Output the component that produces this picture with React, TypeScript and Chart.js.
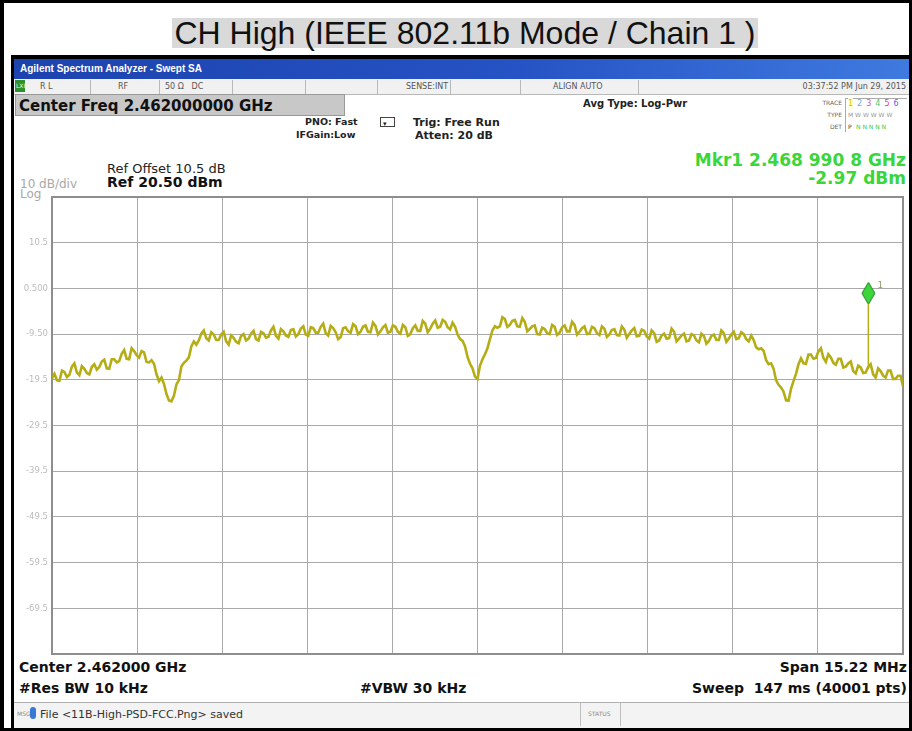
import React, { useEffect, useRef } from "react";
import { Chart, registerables } from "chart.js";
Chart.register(...registerables);

const TITLE = "CH High (IEEE 802.11b Mode / Chain 1 )";
const FREQ_START_MHZ = 2454.39;
const FREQ_STOP_MHZ = 2469.61;
const FREQ_GRID_MHZ = [2454.39, 2455.912, 2457.434, 2458.956, 2460.478, 2462.0, 2463.522, 2465.044, 2466.566, 2468.088, 2469.61];
const Y_GRID_DBM = [20.5, 10.5, 0.5, -9.5, -19.5, -29.5, -39.5, -49.5, -59.5, -69.5, -79.5];
const Y_TICK_LABELS = ["", "10.5", "0.500", "-9.50", "-19.5", "-29.5", "-39.5", "-49.5", "-59.5", "-69.5", ""];
const MARKER_FREQ_MHZ = 2468.9908;
const MARKER_DBM = -2.97;
const MARKER_STEM_END_DBM = -17.2;

// trace read at even sweep positions
const TRACE_DBM = [
  -19.2, -19.6, -17.5, -18.9, -16.6, -17.9, -16.5, -18.0, -16.7, -17.3,
  -15.5, -17.0, -15.0, -15.7, -13.8, -14.9, -12.6, -14.1, -13.2, -15.6,
  -15.2, -18.3, -19.0, -22.6, -24.2, -20.5, -16.6, -15.3, -12.2, -11.8,
  -9.4, -10.4, -9.1, -10.8, -9.6, -11.1, -9.8, -11.2, -9.9, -10.9,
  -9.4, -10.6, -9.0, -10.3, -8.7, -9.9, -8.4, -9.8, -8.6, -10.0,
  -8.3, -9.6, -8.0, -9.2, -7.9, -9.3, -7.7, -9.1, -10.2, -8.0,
  -9.2, -7.8, -9.0, -7.6, -9.1, -7.7, -8.9, -7.5, -9.0, -7.9,
  -9.4, -8.0, -9.5, -7.6, -8.8, -7.2, -8.3, -6.5, -7.9, -6.8,
  -8.5, -7.9, -10.6, -12.2, -16.0, -18.8, -16.4, -13.9, -10.6, -7.8,
  -7.8, -6.2, -7.5, -6.4, -7.9, -6.8, -8.4, -7.6, -9.6, -8.4,
  -9.5, -7.9, -9.2, -7.6, -8.9, -7.5, -9.0, -7.8, -9.4, -8.2,
  -9.7, -8.3, -9.6, -8.4, -9.8, -8.5, -9.5, -8.2, -9.9, -8.8,
  -10.5, -9.3, -10.9, -9.4, -10.4, -9.0, -10.5, -9.4, -10.9, -9.8,
  -11.3, -9.9, -11.0, -9.6, -10.8, -9.3, -10.5, -9.0, -10.4, -9.5,
  -11.1, -10.8, -12.8, -13.2, -16.1, -17.1, -20.6, -22.1, -24.1, -19.8,
  -16.1, -15.9, -14.0, -14.9, -13.3, -14.7, -13.9, -15.8, -14.9, -16.8,
  -15.9, -17.6, -16.4, -18.0, -16.7, -18.3, -17.0, -18.6, -17.5, -19.3,
  -18.6, -20.9,
];

// trace read at the sweep positions half-way between the ones above
const TRACE_MID_DBM = [
  -18.2, -19.7, -17.8, -18.4, -15.9, -18.5, -17.1, -18.3, -16.1, -16.7,
  -15.1, -17.1, -15.0, -15.4, -13.0, -15.0, -13.2, -14.6, -13.5, -15.7,
  -16.0, -19.8, -20.4, -24.0, -23.0, -19.6, -15.8, -14.6, -11.1, -10.9,
  -8.7, -10.9, -9.6, -10.8, -9.0, -11.8, -10.3, -11.5, -9.5, -10.5,
  -8.8, -10.9, -9.3, -10.1, -7.9, -10.5, -8.9, -10.1, -8.4, -9.5,
  -7.8, -9.9, -8.2, -9.2, -7.2, -9.8, -8.2, -10.6, -8.2, -8.9,
  -7.3, -9.5, -7.9, -9.0, -7.0, -9.6, -8.0, -9.2, -7.6, -9.0,
  -7.5, -9.9, -8.2, -8.8, -6.6, -9.1, -7.2, -8.1, -6.4, -8.0,
  -7.0, -9.6, -11.0, -14.5, -17.0, -19.3, -15.0, -12.6, -8.7, -8.1,
  -5.8, -7.9, -6.6, -7.8, -6.0, -8.9, -7.8, -9.5, -8.1, -9.3,
  -7.5, -9.7, -8.0, -8.9, -6.8, -9.6, -8.2, -9.5, -7.9, -9.3,
  -7.8, -10.1, -8.6, -9.7, -7.8, -10.3, -8.7, -10.0, -8.5, -10.0,
  -8.7, -11.2, -9.8, -10.5, -8.3, -11.1, -9.8, -11.1, -9.5, -10.9,
  -9.4, -11.6, -9.9, -10.8, -8.7, -11.2, -9.6, -10.6, -9.1, -10.6,
  -9.8, -12.4, -12.6, -15.2, -15.9, -19.6, -21.2, -24.0, -21.5, -18.2,
  -14.8, -16.0, -14.0, -14.7, -12.6, -15.6, -14.6, -16.2, -14.9, -16.6,
  -15.5, -18.1, -16.8, -17.9, -16.1, -19.0, -17.6, -19.0, -17.5, -19.3,
  -18.6,
];

const TRACE_COLOR = "#b5ad16";
const MKR_GREEN = "#3ad63a";
const SANS = "'DejaVu Sans', sans-serif";

type TProps = {
  x: number; cy: number; size: number; text: string; bold?: boolean; color?: string;
  right?: boolean; family?: string; extra?: React.CSSProperties;
};
function T({ x, cy, size, text, bold, color, right, family, extra }: TProps) {
  const style: React.CSSProperties = {
    position: "absolute",
    top: cy,
    transform: "translateY(-50%)",
    fontSize: size,
    lineHeight: 1,
    fontWeight: bold ? "bold" : "normal",
    color: color || "#111",
    fontFamily: family || SANS,
    whiteSpace: "pre",
    ...(right ? { right: 912 - x } : { left: x }),
    ...extra,
  };
  return <div style={style}>{text}</div>;
}

function makeDiamond(): HTMLCanvasElement {
  const c = document.createElement("canvas");
  c.width = 15;
  c.height = 46;
  const g = c.getContext("2d")!;
  g.beginPath();
  g.moveTo(7.5, 1);
  g.lineTo(14, 12);
  g.lineTo(7.5, 23);
  g.lineTo(1, 12);
  g.closePath();
  g.fillStyle = MKR_GREEN;
  g.fill();
  g.strokeStyle = "#2a7a2a";
  g.lineWidth = 1;
  g.stroke();
  return c;
}

export default function App() {
  const ref = useRef<HTMLCanvasElement | null>(null);
  useEffect(() => {
    if (!ref.current) return;
    const n = TRACE_DBM.length;
    const step = (FREQ_STOP_MHZ - FREQ_START_MHZ) / (n - 1);
    const tracePts: { x: number; y: number }[] = [];
    TRACE_DBM.forEach((v, i) => {
      tracePts.push({ x: FREQ_START_MHZ + i * step, y: v });
      if (i < TRACE_MID_DBM.length) {
        tracePts.push({ x: FREQ_START_MHZ + (i + 0.5) * step, y: TRACE_MID_DBM[i] });
      }
    });
    const diamond = makeDiamond();
    const framePlugin = {
      id: "frame",
      beforeDatasetsDraw(chart: any) {
        const { ctx, chartArea: a } = chart;
        ctx.save();
        ctx.strokeStyle = "#8e8e8e";
        ctx.lineWidth = 2;
        ctx.strokeRect(a.left, a.top, a.right - a.left, a.bottom - a.top);
        ctx.restore();
      },
      afterDatasetsDraw(chart: any) {
        const { ctx, scales } = chart;
        const px = scales.x.getPixelForValue(MARKER_FREQ_MHZ);
        const py = scales.y.getPixelForValue(MARKER_DBM);
        ctx.save();
        ctx.fillStyle = "#9a9a70";
        ctx.font = "9px 'DejaVu Sans'";
        ctx.textBaseline = "middle";
        ctx.fillText("1", px + 9, py - 19);
        ctx.restore();
      },
    };
    const chart = new Chart(ref.current, {
      type: "line",
      data: {
        datasets: [
          {
            data: tracePts,
            borderColor: TRACE_COLOR,
            borderWidth: 2.6,
            pointRadius: 0,
            tension: 0,
          },
          {
            data: [
              { x: MARKER_FREQ_MHZ, y: MARKER_DBM },
              { x: MARKER_FREQ_MHZ, y: MARKER_STEM_END_DBM },
            ],
            borderColor: TRACE_COLOR,
            borderWidth: 1.5,
            pointRadius: 0,
          },
          {
            data: [{ x: MARKER_FREQ_MHZ, y: MARKER_DBM }],
            showLine: false,
            pointStyle: diamond as any,
            pointRadius: 8,
          },
        ],
      },
      options: {
        animation: false,
        responsive: false,
        events: [],
        layout: { padding: { left: 0, top: 197, right: 4, bottom: 77 } },
        plugins: { legend: { display: false }, tooltip: { enabled: false } },
        scales: {
          x: {
            type: "linear",
            min: FREQ_START_MHZ,
            max: FREQ_STOP_MHZ,
            afterBuildTicks: (s: any) => {
              s.ticks = FREQ_GRID_MHZ.map((v) => ({ value: v }));
            },
            afterFit: (s: any) => {
              s.height = 0;
            },
            ticks: { display: false },
            grid: { color: "#a9a9a9", lineWidth: 1, drawTicks: false },
            border: { display: false },
          },
          y: {
            type: "linear",
            min: -79.5,
            max: 20.5,
            afterBuildTicks: (s: any) => {
              s.ticks = Y_GRID_DBM.map((v) => ({ value: v }));
            },
            afterFit: (s: any) => {
              s.width = 52;
            },
            ticks: {
              autoSkip: false,
              padding: 4,
              color: "#bcbcbc",
              font: { size: 8.5, family: "'DejaVu Sans'" },
              callback: (v: any) => {
                const i = Y_GRID_DBM.indexOf(Number(v));
                return i >= 0 ? Y_TICK_LABELS[i] : "";
              },
            },
            grid: { color: "#a9a9a9", lineWidth: 1, drawTicks: false },
            border: { display: false },
          },
        },
      } as any,
      plugins: [framePlugin],
    });
    return () => chart.destroy();
  }, []);

  const dividers = [90, 159, 232, 305, 377, 450, 520, 638];

  return (
    <div style={{ position: "absolute", left: 0, top: 0, width: 912, height: 731, background: "#fff", overflow: "hidden", fontFamily: SANS }}>
      <div style={{ position: "absolute", left: 0, top: 0, width: 912, height: 731, boxSizing: "border-box", borderStyle: "solid", borderColor: "#000", borderWidth: "3px 3px 3px 4px" }} />
      <div style={{ position: "absolute", left: 172, top: 18, width: 586, height: 30, background: "#d9d9d9" }} />
      <div style={{ position: "absolute", left: 172, top: 18, width: 586, height: 30, display: "flex", alignItems: "center", justifyContent: "center", fontFamily: "'Liberation Sans', Arial, sans-serif", fontSize: 32, color: "#111", whiteSpace: "pre" }}>{TITLE}</div>
      <div style={{ position: "absolute", left: 11, top: 55, width: 901, height: 676, boxSizing: "border-box", borderStyle: "solid", borderColor: "#000", borderWidth: "4px 3px 4px 3px" }} />
      <div style={{ position: "absolute", left: 14, top: 59, width: 895, height: 20, background: "linear-gradient(to right, #1d43ae, #2552c4 55%, #3f7ae0)" }} />
      <T x={20} cy={69} size={10} text="Agilent Spectrum Analyzer - Swept SA" color="#fff" family="'Liberation Sans', sans-serif" bold />
      <div style={{ position: "absolute", left: 14, top: 79, width: 895, height: 15, background: "#f1f1f1", borderBottom: "1px solid #b8b8b8" }} />
      {dividers.map((d) => (
        <div key={d} style={{ position: "absolute", left: d, top: 80, width: 1, height: 14, background: "#b8b8b8" }} />
      ))}
      <div style={{ position: "absolute", left: 15, top: 80, width: 10, height: 12, background: "#2f8f2f" }} />
      <T x={16} cy={86} size={6} text="LXI" color="#dfd" />
      <T x={40} cy={87} size={8} text="R L" color="#555" />
      <T x={118} cy={87} size={8} text="RF" color="#555" />
      <T x={165} cy={87} size={8} text="50 Ω   DC" color="#555" />
      <T x={406} cy={87} size={8} text="SENSE:INT" color="#555" />
      <T x={553} cy={87} size={8} text="ALIGN AUTO" color="#555" />
      <T x={906} cy={87} size={8} text="03:37:52 PM Jun 29, 2015" color="#555" right />
      <div style={{ position: "absolute", left: 15, top: 94, width: 330, height: 22, background: "#c8c8c8", boxSizing: "border-box", border: "1px solid #999" }} />
      <T x={19} cy={106} size={15} text="Center Freq 2.462000000 GHz" bold />
      <T x={305} cy={122} size={9.5} text="PNO: Fast" bold color="#222" />
      <T x={296} cy={135} size={9.5} text="IFGain:Low" bold color="#222" />
      <div style={{ position: "absolute", left: 380, top: 117, width: 13, height: 8, border: "1px solid #444", background: "#fff" }} />
      <T x={383} cy={124} size={7} text="▾" color="#222" />
      <T x={413} cy={122} size={11} text="Trig: Free Run" bold color="#222" />
      <T x={415} cy={135} size={11} text="Atten: 20 dB" bold color="#222" />
      <T x={583} cy={104} size={10} text="Avg Type: Log-Pwr" bold color="#222" />
      <T x={842} cy={103} size={6} text="TRACE" color="#666" right />
      <T x={842} cy={115} size={6} text="TYPE" color="#666" right />
      <T x={842} cy={127} size={6} text="DET" color="#666" right />
      <div style={{ position: "absolute", left: 845, top: 98, width: 61, height: 33, borderLeft: "1px solid #aaa", borderTop: "1px solid #aaa" }} />
      <div style={{ position: "absolute", left: 848, top: 98, display: "flex", gap: 4, fontSize: 8, lineHeight: "11px", fontFamily: SANS }}>
        <span style={{ color: "#c8c800", background: "#ffffe0" }}>1</span>
        <span style={{ color: "#5ab4e6" }}>2</span>
        <span style={{ color: "#d050d0" }}>3</span>
        <span style={{ color: "#50c878" }}>4</span>
        <span style={{ color: "#e04080" }}>5</span>
        <span style={{ color: "#6060e0" }}>6</span>
      </div>
      <T x={848} cy={115} size={6} text="M W W W W W" color="#999" />
      <T x={848} cy={127} size={6} text="P" color="#333" />
      <T x={856} cy={127} size={6} text="N N N N N" color="#3c3" />
      <T x={906} cy={160} size={17} text="Mkr1 2.468 990 8 GHz" bold color={MKR_GREEN} right />
      <T x={906} cy={178} size={17} text="-2.97 dBm" bold color={MKR_GREEN} right />
      <T x={107} cy={168} size={13} text="Ref Offset 10.5 dB" color="#222" />
      <T x={107} cy={182} size={14} text="Ref 20.50 dBm" bold color="#111" />
      <T x={20} cy={184} size={12} text="10 dB/div" color="#a8a8a8" />
      <T x={20} cy={194} size={12} text="Log" color="#a8a8a8" />
      <T x={19} cy={667} size={14} text="Center 2.462000 GHz" bold />
      <T x={907} cy={667} size={14} text="Span 15.22 MHz" bold right />
      <T x={19} cy={688} size={14} text="#Res BW 10 kHz" bold />
      <T x={360} cy={688} size={14} text="#VBW 30 kHz" bold />
      <T x={907} cy={688} size={14} text="Sweep  147 ms (40001 pts)" bold right />
      <div style={{ position: "absolute", left: 14, top: 702, width: 895, height: 25, background: "#f3f3f3", borderTop: "1px solid #b0b0b0" }} />
      <div style={{ position: "absolute", left: 580, top: 703, width: 1, height: 23, background: "#c0c0c0" }} />
      <div style={{ position: "absolute", left: 620, top: 703, width: 1, height: 23, background: "#c0c0c0" }} />
      <T x={17} cy={714} size={6} text="MSG" color="#888" />
      <div style={{ position: "absolute", left: 30, top: 707, width: 6, height: 12, borderRadius: 3, background: "#3a78d8" }} />
      <T x={40} cy={714} size={11} text="File <11B-High-PSD-FCC.Png> saved" color="#333" />
      <T x={588} cy={714} size={6} text="STATUS" color="#888" />
      <canvas ref={ref} width={912} height={731} style={{ position: "absolute", left: 0, top: 0, width: 912, height: 731, pointerEvents: "none" }} />
    </div>
  );
}
